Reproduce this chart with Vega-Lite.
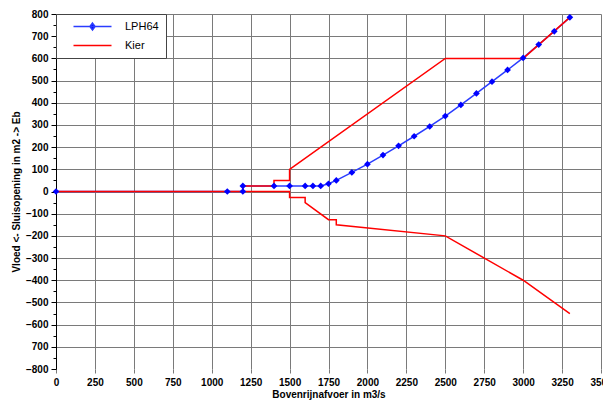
{
  "$schema": "https://vega.github.io/schema/vega-lite/v6.json",
  "width": 545,
  "height": 355,
  "autosize": "none",
  "padding": {"left": 56, "top": 14, "right": 2, "bottom": 32},
  "background": "white",
  "config": {
    "view": {"stroke": null},
    "font": "Liberation Sans"
  },
  "datasets": {
    "lph": [
      {"x": 0, "y": 0, "s": "LPH64", "i": 1},
      {"x": 1100, "y": 0, "s": "LPH64", "i": 2},
      {"x": 1200, "y": 0, "s": "LPH64", "i": 3},
      {"x": 1200, "y": 25, "s": "LPH64", "i": 4},
      {"x": 1400, "y": 25, "s": "LPH64", "i": 5},
      {"x": 1500, "y": 25, "s": "LPH64", "i": 6},
      {"x": 1600, "y": 25, "s": "LPH64", "i": 7},
      {"x": 1650, "y": 25, "s": "LPH64", "i": 8},
      {"x": 1700, "y": 25, "s": "LPH64", "i": 9},
      {"x": 1750, "y": 35, "s": "LPH64", "i": 10},
      {"x": 1800, "y": 50, "s": "LPH64", "i": 11},
      {"x": 1900, "y": 86, "s": "LPH64", "i": 12},
      {"x": 2000, "y": 123, "s": "LPH64", "i": 13},
      {"x": 2100, "y": 164, "s": "LPH64", "i": 14},
      {"x": 2200, "y": 206, "s": "LPH64", "i": 15},
      {"x": 2300, "y": 249, "s": "LPH64", "i": 16},
      {"x": 2400, "y": 293, "s": "LPH64", "i": 17},
      {"x": 2500, "y": 340, "s": "LPH64", "i": 18},
      {"x": 2600, "y": 390, "s": "LPH64", "i": 19},
      {"x": 2700, "y": 442, "s": "LPH64", "i": 20},
      {"x": 2800, "y": 495, "s": "LPH64", "i": 21},
      {"x": 2900, "y": 548, "s": "LPH64", "i": 22},
      {"x": 3000, "y": 602, "s": "LPH64", "i": 23},
      {"x": 3100, "y": 662, "s": "LPH64", "i": 24},
      {"x": 3200, "y": 722, "s": "LPH64", "i": 25},
      {"x": 3300, "y": 785, "s": "LPH64", "i": 26}
    ],
    "kier": [
      {"x": 1200, "y": 0, "seg": "boven", "s": "Kier", "i": 1},
      {"x": 1200, "y": 25, "seg": "boven", "s": "Kier", "i": 2},
      {"x": 1400, "y": 25, "seg": "boven", "s": "Kier", "i": 3},
      {"x": 1400, "y": 50, "seg": "boven", "s": "Kier", "i": 4},
      {"x": 1500, "y": 50, "seg": "boven", "s": "Kier", "i": 5},
      {"x": 1500, "y": 100, "seg": "boven", "s": "Kier", "i": 6},
      {"x": 2500, "y": 600, "seg": "boven", "s": "Kier", "i": 7},
      {"x": 3000, "y": 600, "seg": "boven", "s": "Kier", "i": 8},
      {"x": 3300, "y": 785, "seg": "boven", "s": "Kier", "i": 9},
      {"x": 0, "y": 0, "seg": "onder", "s": "Kier", "i": 1},
      {"x": 1500, "y": 0, "seg": "onder", "s": "Kier", "i": 2},
      {"x": 1500, "y": -27, "seg": "onder", "s": "Kier", "i": 3},
      {"x": 1600, "y": -27, "seg": "onder", "s": "Kier", "i": 4},
      {"x": 1600, "y": -50, "seg": "onder", "s": "Kier", "i": 5},
      {"x": 1750, "y": -127, "seg": "onder", "s": "Kier", "i": 6},
      {"x": 1800, "y": -127, "seg": "onder", "s": "Kier", "i": 7},
      {"x": 1800, "y": -150, "seg": "onder", "s": "Kier", "i": 8},
      {"x": 2500, "y": -200, "seg": "onder", "s": "Kier", "i": 9},
      {"x": 3000, "y": -400, "seg": "onder", "s": "Kier", "i": 10},
      {"x": 3300, "y": -550, "seg": "onder", "s": "Kier", "i": 11}
    ]
  },
  "encoding": {
    "x": {
      "field": "x", "type": "quantitative",
      "scale": {"domain": [0, 3500], "nice": false, "zero": false},
      "axis": {
        "title": "Bovenrijnafvoer in m3/s",
        "values": [0, 250, 500, 750, 1000, 1250, 1500, 1750, 2000, 2250, 2500, 2750, 3000, 3250, 3500],
        "format": "d",
        "domain": false,
        "grid": true, "gridColor": "#7a7a7a", "gridWidth": 1,
        "ticks": true, "tickSize": 4, "tickColor": "#7a7a7a",
        "labelFont": "Liberation Sans", "labelFontWeight": "bold", "labelFontSize": 10, "labelColor": "#000",
        "labelPadding": 4, "labelFlush": false, "labelOverlap": false,
        "titleFont": "Liberation Sans", "titleFontWeight": "bold", "titleFontSize": 10, "titleColor": "#000",
        "titlePadding": 2
      }
    },
    "y": {
      "field": "y", "type": "quantitative",
      "scale": {"domain": [-800, 800], "nice": false},
      "axis": {
        "title": "Vloed <- Sluisopening in m2 -> Eb",
        "values": [-800, -750, -700, -650, -600, -550, -500, -450, -400, -350, -300, -250, -200, -150, -100, -50, 0, 50, 100, 150, 200, 250, 300, 350, 400, 450, 500, 550, 600, 650, 700, 750, 800],
        "labelExpr": "datum.value % 100 != 0 ? '' : (datum.value == -700 ? '700' : format(datum.value, 'd'))",
        "domain": true, "domainColor": "#000",
        "grid": true, "gridColor": "#7a7a7a", "gridWidth": 1,
        "gridOpacity": {"condition": {"test": "datum.value % 100 != 0 || datum.value == -800", "value": 0}, "value": 1},
        "tickColor": "#000",
        "tickSize": {"condition": {"test": "datum.value % 100 != 0", "value": 3}, "value": 5},
        "labelFont": "Liberation Sans", "labelFontWeight": "bold", "labelFontSize": 10, "labelColor": "#000",
        "labelPadding": 3, "labelOverlap": false, "labelFlush": false,
        "titleFont": "Liberation Sans", "titleFontWeight": "bold", "titleFontSize": 10, "titleColor": "#000",
        "titlePadding": 4
      }
    }
  },
  "layer": [
    {
      "data": {"name": "lph"},
      "mark": {"type": "line", "strokeWidth": 1.5},
      "encoding": {
        "order": {"field": "i", "type": "quantitative"},
        "color": {
          "field": "s", "type": "nominal",
          "scale": {"domain": ["LPH64", "Kier"], "range": ["#2a3cff", "#ff0000"]},
          "legend": {
            "title": null,
            "orient": "top-left",
            "offset": 0,
            "padding": 7,
            "fillColor": "white",
            "strokeColor": "#444",
            "symbolType": "stroke",
            "symbolSize": 64,
            "symbolStrokeWidth": 1.5,
            "labelFont": "Liberation Sans",
            "labelFontSize": 11,
            "labelColor": "#000",
            "labelOffset": 14,
            "rowPadding": 6,
            "encode": {
              "symbols": {
                "update": {
                  "shape": {"signal": "datum.value == 'LPH64' ? 'M1.25,0L10.75,0M6,-0.85L6.65,0L6,0.85L5.35,0Z' : 'M1.25,0L10.75,0'"},
                  "fill": {"signal": "datum.value == 'LPH64' ? '#0000ff' : 'transparent'"}
                }
              },
              "labels": {
                "update": {
                  "dx": {"value": 37}
                }
              }
            }
          }
        }
      }
    },
    {
      "data": {"name": "kier"},
      "mark": {"type": "line", "strokeWidth": 1.5},
      "encoding": {
        "order": {"field": "i", "type": "quantitative"},
        "detail": {"field": "seg", "type": "nominal"},
        "color": {"field": "s", "type": "nominal"}
      }
    },
    {
      "data": {"name": "lph"},
      "mark": {"type": "point", "shape": "diamond", "filled": true, "size": 45, "color": "#0000ff", "opacity": 1}
    }
  ]
}
